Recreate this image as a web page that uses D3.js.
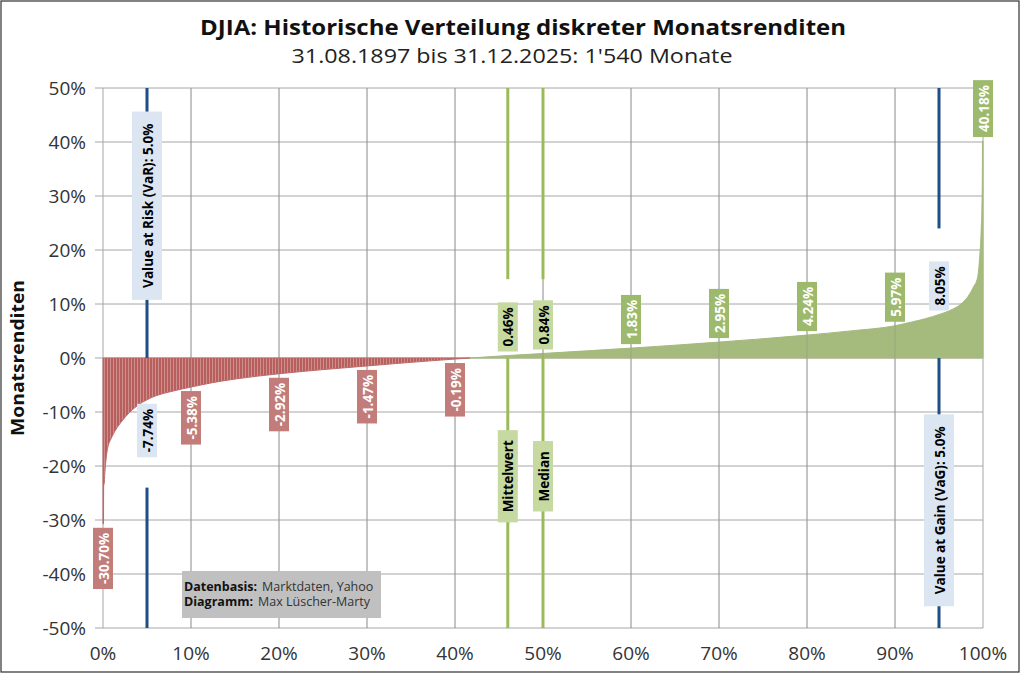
<!DOCTYPE html>
<html>
<head>
<meta charset="utf-8">
<script src="https://cdn.jsdelivr.net/npm/d3@7"></script>
<style>
  html, body { margin: 0; padding: 0; background: #fff; }
  svg { display: block; font-family: 'Open Sans', 'Noto Sans', sans-serif; }
</style>
</head>
<body>
<div id="root"></div>
<script>
// sorted monthly returns (percentile of months, return in %)
// the first and last bar each cover one month (~0.065% of 1'540)
const negPct = [0, 0.06, 0.07, 0.13, 0.2, 0.3, 0.45, 0.6, 0.9, 1.2, 1.6, 2, 3, 4, 5, 6, 7.5, 9, 10, 12.5, 15, 20, 25, 30, 35, 40, 41.7];
const negRet = [-30.7, -30.7, -23.7, -23.3, -21.5, -19.5, -17.4, -16.2, -15.0, -14.0, -12.9, -12.0, -10.1, -8.7, -7.74, -7.0, -6.3, -5.72, -5.38, -4.55, -3.9, -2.92, -2.15, -1.47, -0.8, -0.19, 0];
const posPct = [41.7, 46, 50, 55, 60, 65, 70, 75, 80, 85, 90, 92, 93.5, 95, 96.5, 97.5, 98.3, 98.9, 99.4, 99.68, 99.74, 99.81, 99.87, 99.93, 99.94, 100];
const posRet = [0, 0.46, 0.84, 1.33, 1.83, 2.37, 2.95, 3.57, 4.24, 5.02, 5.97, 6.7, 7.3, 8.05, 9.0, 10.0, 11.4, 13.1, 15.0, 20.0, 21.5, 24.3, 27.3, 34.8, 40.18, 40.18];

// value labels along the distribution
const labelPct = [0, 5, 10, 20, 30, 40, 46, 50, 60, 70, 80, 90, 95, 100];
const labelVal = [-30.70, -7.74, -5.38, -2.92, -1.47, -0.19, 0.46, 0.84, 1.83, 2.95, 4.24, 5.97, 8.05, 40.18];
const labelKind = ['neg', 'risk', 'neg', 'neg', 'neg', 'neg', 'mid', 'mid', 'pos', 'pos', 'pos', 'pos', 'risk', 'pos'];

// vertical marker lines
const markerName = ['Value at Risk (VaR): 5.0%', 'Mittelwert', 'Median', 'Value at Gain (VaG): 5.0%'];
const markerPct = [5, 46, 50, 95];

const xTicks = [0, 10, 20, 30, 40, 50, 60, 70, 80, 90, 100];
const yTicks = [-50, -40, -30, -20, -10, 0, 10, 20, 30, 40, 50];

const noteKeys = ['Datenbasis:', 'Diagramm:'];
const noteVals = ['Marktdaten, Yahoo', 'Max Lüscher-Marty'];

const W = 1024, H = 674;

// styling per marker: line segments (in %), label centre (in %), box width, colours
const markerStyle = [
    { segs: [[50, 0], [-24, -50]], labelY: 28.2, boxW: 30, pad: 12, line: '#1f4e86', box: '#dce6f2' },
    { segs: [[50, 14.6], [0, -50]], labelY: -21.9, boxW: 20, pad: 10, line: '#9bbb59', box: '#c5d9a0' },
    { segs: [[50, 14.6], [0, -50]], labelY: -21.9, boxW: 20, pad: 10, line: '#9bbb59', box: '#c5d9a0' },
    { segs: [[50, 24], [0, -50]], labelY: -28.2, boxW: 30, pad: 12, line: '#1f4e86', box: '#dce6f2' }
];
const kindStyle = {
    neg: { box: '#c27c7a', text: '#fff' },
    pos: { box: '#9db96c', text: '#fff' },
    risk: { box: '#dce6f2', text: '#000' },
    mid: { box: '#c5d9a0', text: '#000' }
};

let svg = d3.select('#root').append('svg')
    .attr('width', W)
    .attr('height', H);

svg.append('rect')
    .attr('x', 1).attr('y', 1)
    .attr('width', W - 6).attr('height', H - 3)
    .attr('fill', '#fff')
    .attr('stroke', '#404040')
    .attr('stroke-width', 1.3);

let x = d3.scaleLinear().domain([0, 100]).range([103, 983]),
    y = d3.scaleLinear().domain([-50, 50]).range([628, 88]);

let defs = svg.append('defs');
let pat = defs.append('pattern')
    .attr('id', 'redStripes')
    .attr('patternUnits', 'userSpaceOnUse')
    .attr('width', 3).attr('height', 10);
pat.append('rect').attr('width', 3).attr('height', 10).attr('fill', '#cd8f8d');
pat.append('rect').attr('width', 2).attr('height', 10).attr('fill', '#b85f5d');

// grid
let grid = svg.append('g').attr('class', 'grid');
grid.selectAll('.gx').data(xTicks).enter().append('line')
    .attr('x1', d => x(d)).attr('x2', d => x(d))
    .attr('y1', y(50)).attr('y2', y(-50))
    .attr('stroke', '#a6a6a6').attr('stroke-width', 1);
grid.selectAll('.gy').data(yTicks).enter().append('line')
    .attr('x1', x(0) - 8).attr('x2', x(100))
    .attr('y1', d => y(d)).attr('y2', d => y(d))
    .attr('stroke', '#a6a6a6').attr('stroke-width', 1);

// distribution areas
let area = d3.area()
    .x(d => x(d[0]))
    .y0(y(0))
    .y1(d => y(d[1]))
    .curve(d3.curveMonotoneX);

svg.append('path')
    .datum(d3.zip(negPct, negRet))
    .attr('d', area)
    .attr('fill', 'url(#redStripes)')
    .attr('stroke', '#bd6a68')
    .attr('stroke-width', 1)
    .attr('stroke-linejoin', 'miter');
svg.append('path')
    .datum(d3.zip(posPct, posRet))
    .attr('d', area)
    .attr('fill', '#a5ba7d')
    .attr('stroke', '#a5ba7d')
    .attr('stroke-width', 1);

// vertical gridlines show through the areas
svg.append('g').selectAll('line').data(xTicks.slice(1, -1)).enter().append('line')
    .attr('x1', d => x(d)).attr('x2', d => x(d))
    .attr('y1', y(50)).attr('y2', y(-50))
    .attr('stroke', '#808080').attr('stroke-opacity', 0.35).attr('stroke-width', 1);

// marker lines
markerPct.forEach((p, i) => {
    markerStyle[i].segs.forEach(s => {
        svg.append('line')
            .attr('x1', x(p)).attr('x2', x(p))
            .attr('y1', y(s[0])).attr('y2', y(s[1]))
            .attr('stroke', markerStyle[i].line)
            .attr('stroke-width', 3);
    });
});

// rotated label with box; side: 1 = box grows upward from anchor, -1 = downward, 0 = centred
function rotatedLabel(cx, cy, text, side, boxW, pad, boxFill, textFill, size) {
    let g = svg.append('g').attr('transform', `translate(${cx},${cy}) rotate(-90)`);
    let rect = g.append('rect').attr('fill', boxFill);
    let t = g.append('text')
        .attr('font-size', size)
        .attr('font-weight', 700)
        .attr('fill', textFill)
        .attr('dominant-baseline', 'central')
        .text(text);
    let len = t.node().getComputedTextLength(),
        h = len + 2 * pad,
        x0 = side > 0 ? 0 : (side < 0 ? -h : -h / 2);
    rect.attr('x', x0).attr('y', -boxW / 2).attr('width', h).attr('height', boxW);
    t.attr('x', x0 + pad).attr('y', 0.5);
}

labelPct.forEach((p, i) => {
    let v = labelVal[i],
        st = kindStyle[labelKind[i]],
        txt = v.toFixed(2) + '%',
        up = v >= 0;
    rotatedLabel(x(p), y(v) + (up ? -4 : 4), txt, up ? 1 : -1, 20, 5, st.box, st.text, 13.5);
});

markerPct.forEach((p, i) => {
    let st = markerStyle[i];
    rotatedLabel(x(p), y(st.labelY), markerName[i], 0, st.boxW, st.pad, st.box, '#000', 13.5);
});

// axes labels
svg.append('g').selectAll('text').data(yTicks).enter().append('text')
    .attr('x', 86)
    .attr('y', d => y(d) + 7)
    .attr('text-anchor', 'end')
    .attr('font-size', 19)
    .attr('fill', '#333')
    .text(d => d + '%');

svg.append('g').selectAll('text').data(xTicks).enter().append('text')
    .attr('x', d => x(d))
    .attr('y', 660)
    .attr('text-anchor', 'middle')
    .attr('font-size', 19)
    .attr('fill', '#333')
    .text(d => d + '%');

svg.append('text')
    .attr('transform', 'translate(24,358) rotate(-90)')
    .attr('text-anchor', 'middle')
    .attr('font-size', 18)
    .attr('font-weight', 700)
    .attr('fill', '#111')
    .attr('textLength', 156)
    .attr('lengthAdjust', 'spacingAndGlyphs')
    .text('Monatsrenditen');

// titles
svg.append('text')
    .attr('x', 523).attr('y', 35)
    .attr('text-anchor', 'middle')
    .attr('font-size', 22)
    .attr('font-weight', 700)
    .attr('fill', '#111')
    .attr('textLength', 646)
    .attr('lengthAdjust', 'spacingAndGlyphs')
    .text('DJIA: Historische Verteilung diskreter Monatsrenditen');

svg.append('text')
    .attr('x', 512).attr('y', 63)
    .attr('text-anchor', 'middle')
    .attr('font-size', 20)
    .attr('fill', '#222')
    .attr('textLength', 441)
    .attr('lengthAdjust', 'spacingAndGlyphs')
    .text("31.08.1897 bis 31.12.2025: 1'540 Monate");

// source note
let note = svg.append('g');
note.append('rect')
    .attr('x', 182).attr('y', 571)
    .attr('width', 199).attr('height', 47)
    .attr('fill', '#c0c0c0');
noteKeys.forEach((k, i) => {
    let by = 591 + i * 15;
    let kt = note.append('text')
        .attr('x', 184).attr('y', by)
        .attr('font-size', 12.5)
        .attr('font-weight', 700)
        .attr('fill', '#111')
        .text(k);
    let kw = kt.node().getComputedTextLength();
    note.append('text')
        .attr('x', 184 + kw + 5).attr('y', by)
        .attr('font-size', 12.5)
        .attr('fill', '#333')
        .text(noteVals[i]);
});
</script>
</body>
</html>
